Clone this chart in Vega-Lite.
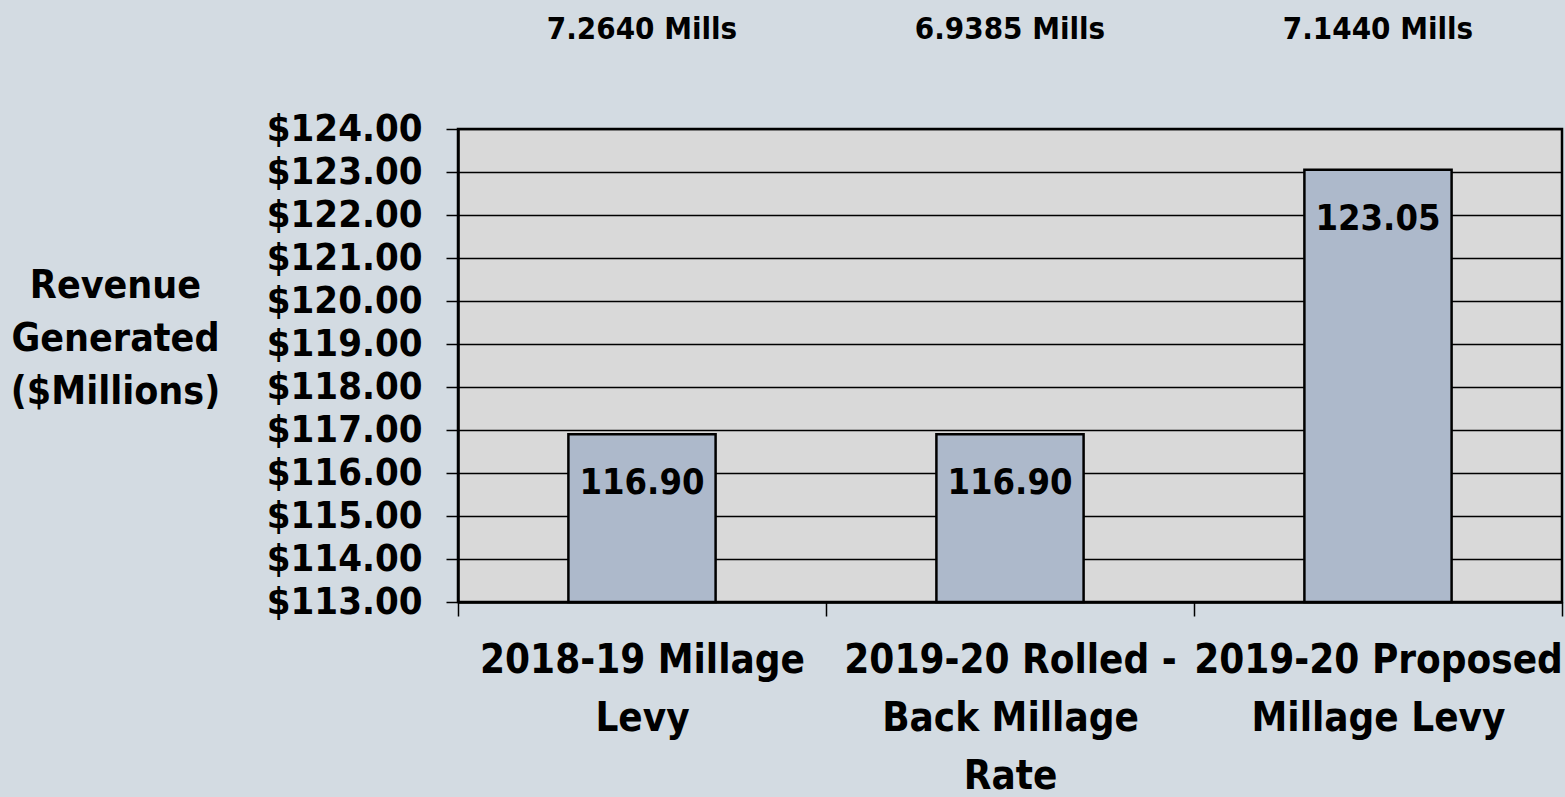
{
  "$schema": "https://vega.github.io/schema/vega-lite/v6.json",
  "width": 1104,
  "height": 473,
  "autosize": {"type": "none"},
  "padding": {"left": 458, "top": 129, "right": 3, "bottom": 195},
  "background": "#d3dbe2",
  "config": {
    "font": "DejaVu Sans Condensed",
    "view": {"fill": "#d9d9d9", "stroke": "#000000", "strokeWidth": 2.5}
  },
  "data": {
    "values": [
      {"levy": "2018-19 Millage Levy", "revenue": 116.90, "mills": "7.2640 Mills"},
      {"levy": "2019-20 Rolled - Back Millage Rate", "revenue": 116.90, "mills": "6.9385 Mills"},
      {"levy": "2019-20 Proposed Millage Levy", "revenue": 123.05, "mills": "7.1440 Mills"}
    ]
  },
  "encoding": {
    "x": {
      "field": "levy",
      "type": "nominal",
      "sort": null,
      "scale": {"paddingInner": 0, "paddingOuter": 0},
      "axis": {
        "title": null,
        "labelAngle": 0,
        "labelFont": "DejaVu Sans Condensed",
        "labelFontSize": 40,
        "labelFontWeight": "bold",
        "labelColor": "#000000",
        "labelLineHeight": 58,
        "labelBaseline": "top",
        "labelPadding": 24,
        "labelLimit": 0,
        "labelOverlap": false,
        "labelBound": false,
        "tickBand": "extent",
        "tickSize": 14,
        "tickColor": "#000000",
        "tickWidth": 1.5,
        "domainColor": "#000000",
        "domainWidth": 2.5,
        "labelExpr": "datum.label == '2018-19 Millage Levy' ? ['2018-19 Millage', 'Levy'] : datum.label == '2019-20 Proposed Millage Levy' ? ['2019-20 Proposed', 'Millage Levy'] : datum.label == '2019-20 Rolled - Back Millage Rate' ? ['2019-20 Rolled -', 'Back Millage', 'Rate'] : ''"
      }
    }
  },
  "layer": [
    {
      "mark": {"type": "bar", "width": {"band": 0.4}, "fill": "#adb9cb", "stroke": "#000000", "strokeWidth": 2.5},
      "encoding": {
        "y": {
          "field": "revenue",
          "type": "quantitative",
          "scale": {"domain": [113, 124], "nice": false, "zero": false},
          "axis": {
            "values": [113, 114, 115, 116, 117, 118, 119, 120, 121, 122, 123, 124],
            "format": "$.2f",
            "labelFont": "DejaVu Sans Condensed",
            "labelFontSize": 38,
            "labelFontWeight": "bold",
            "labelColor": "#000000",
            "labelBaseline": "middle",
            "labelOverlap": false,
            "labelBound": false,
            "labelPadding": 24,
            "tickSize": 12,
            "tickColor": "#000000",
            "tickWidth": 1.5,
            "domainColor": "#000000",
            "domainWidth": 2.5,
            "grid": true,
            "gridColor": "#000000",
            "gridWidth": 1.5,
            "gridOpacity": 1,
            "title": ["Revenue", "Generated", "($Millions)"],
            "titleFont": "DejaVu Sans Condensed",
            "titleFontSize": 39,
            "titleFontWeight": "bold",
            "titleColor": "#000000",
            "titleAngle": 0,
            "titleAlign": "center",
            "titleBaseline": "alphabetic",
            "titleLineHeight": 53,
            "titleX": -343,
            "titleY": 168
          }
        },
        "y2": {"datum": 113}
      }
    },
    {
      "mark": {"type": "text", "font": "DejaVu Sans Condensed", "fontSize": 36, "fontWeight": "bold", "baseline": "middle", "dy": 49, "color": "#000000"},
      "encoding": {
        "y": {"field": "revenue", "type": "quantitative"},
        "text": {"field": "revenue", "type": "quantitative", "format": ".2f"}
      }
    },
    {
      "mark": {"type": "text", "font": "DejaVu Sans Condensed", "fontSize": 31, "fontWeight": "bold", "baseline": "middle", "color": "#000000"},
      "encoding": {
        "y": {"datum": 126.3},
        "text": {"field": "mills"}
      }
    }
  ]
}
